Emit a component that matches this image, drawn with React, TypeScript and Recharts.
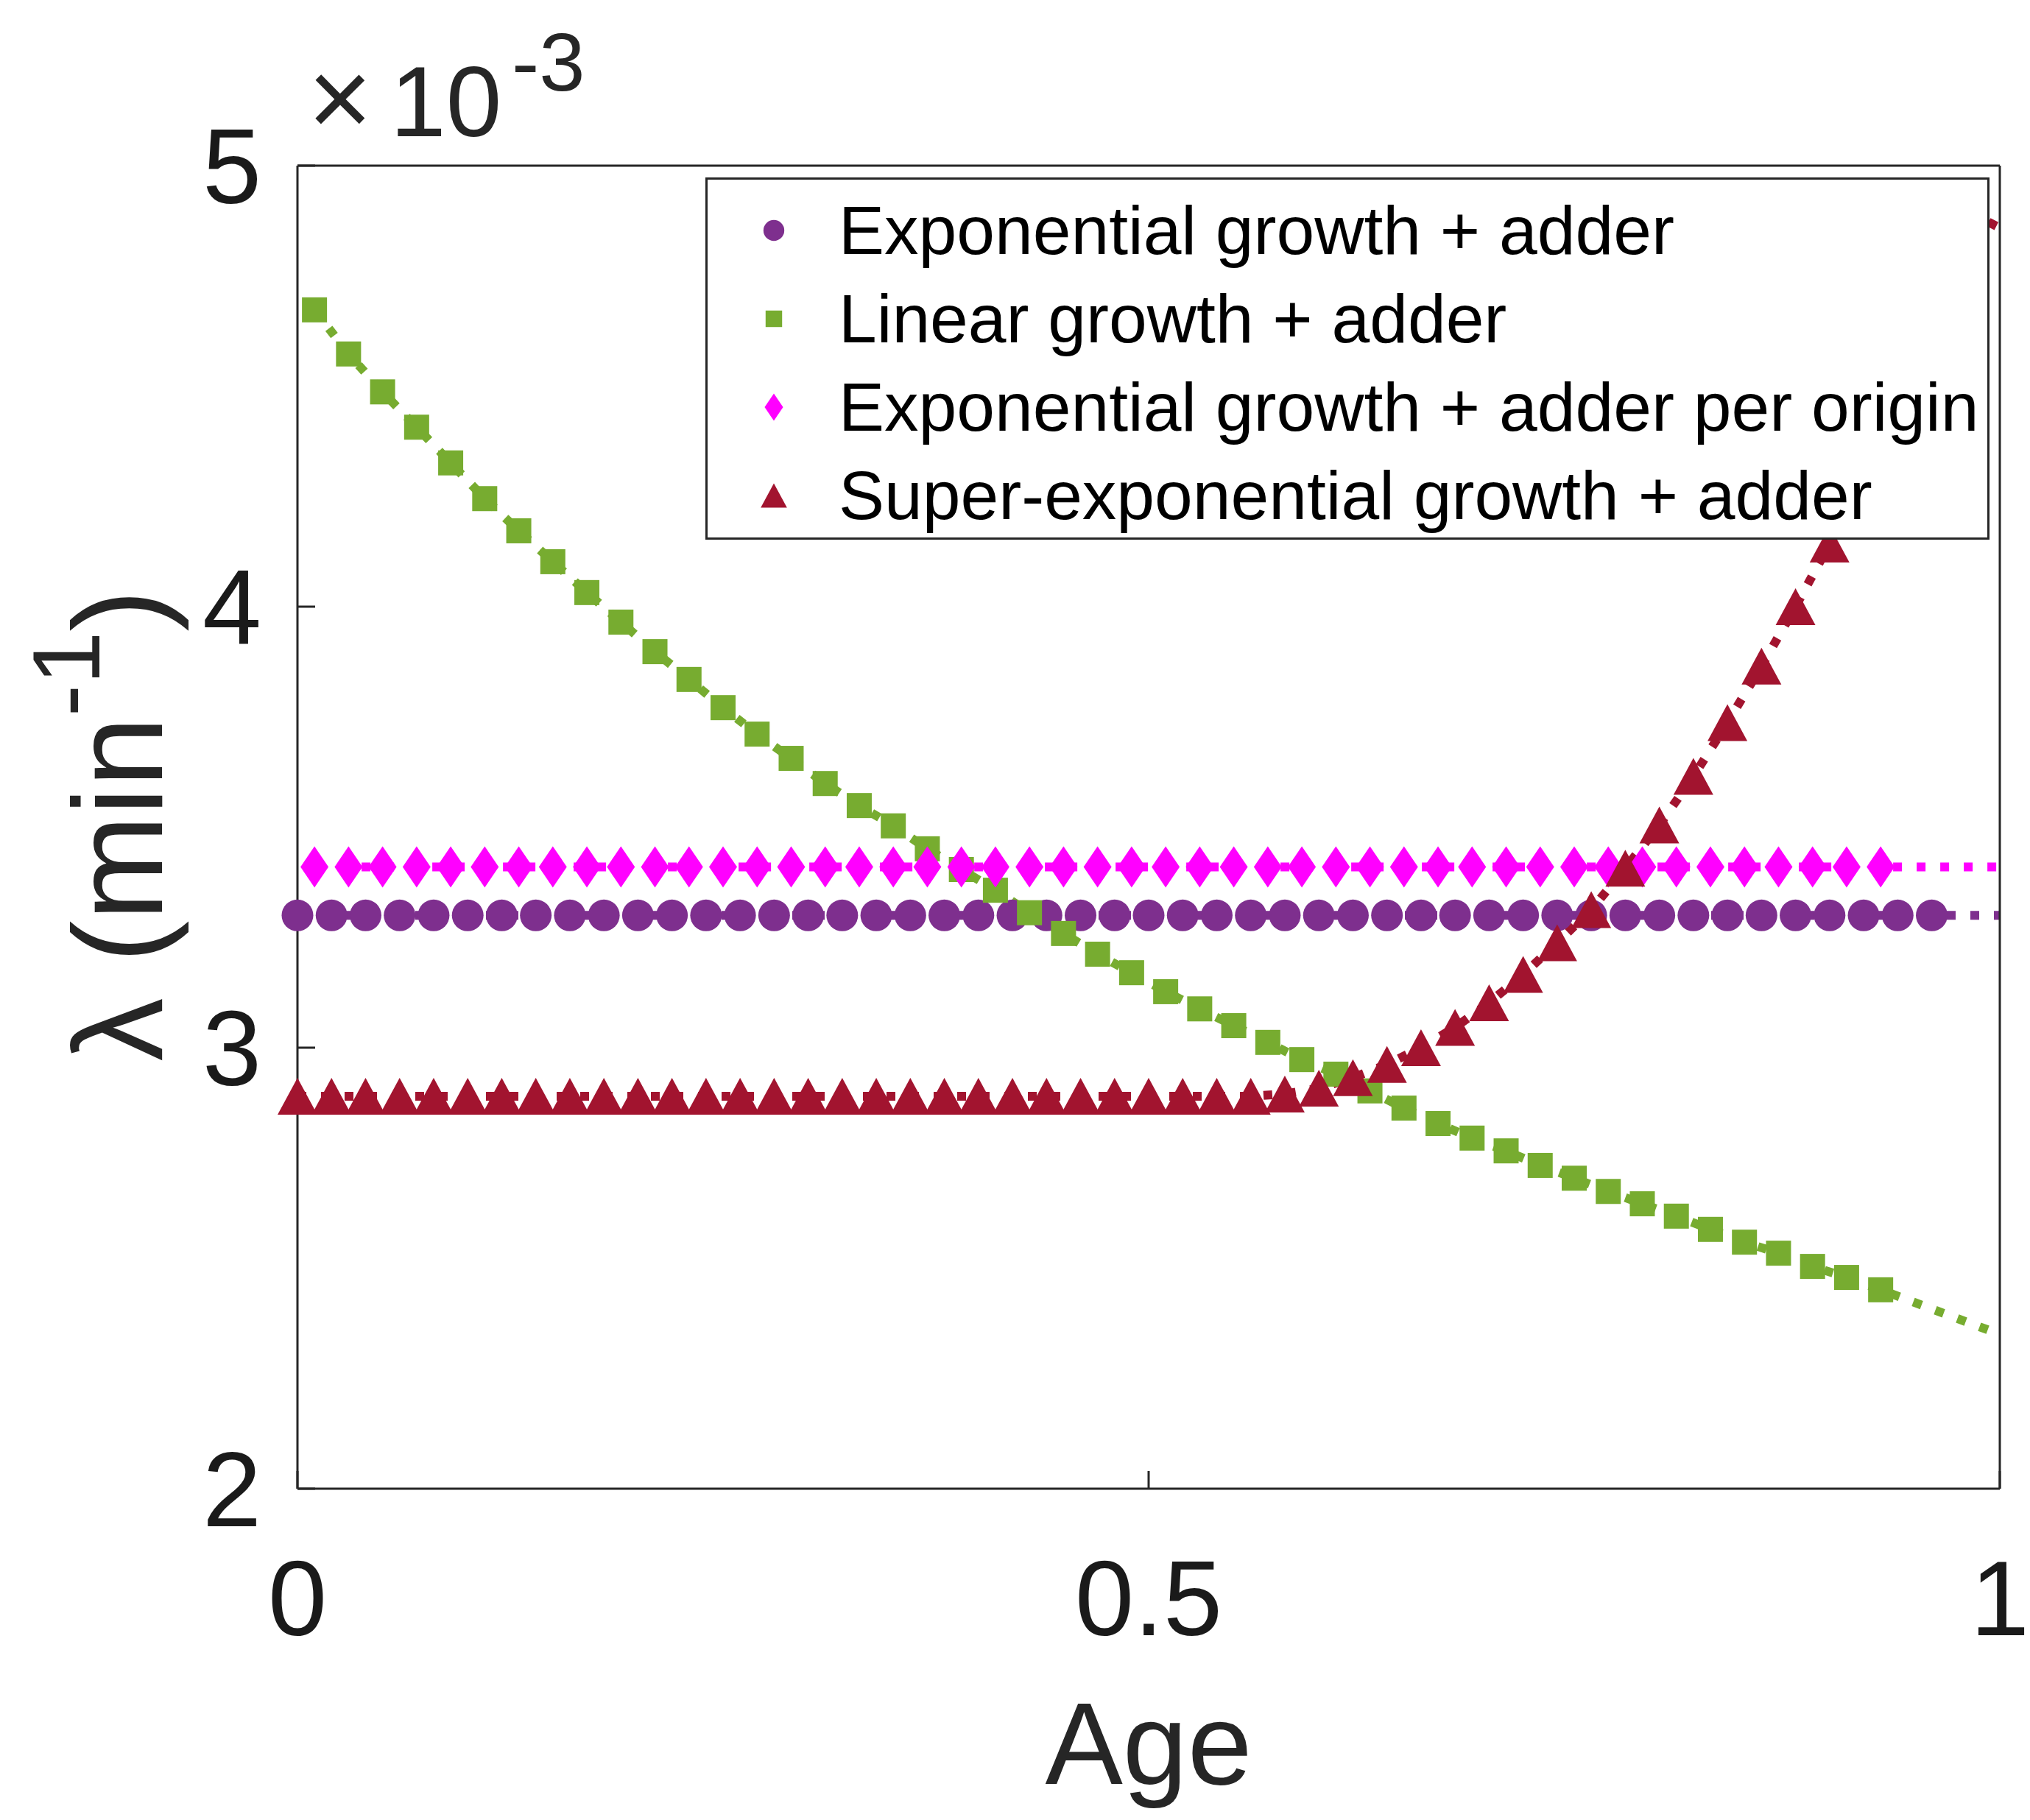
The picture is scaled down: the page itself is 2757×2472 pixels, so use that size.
import { ComposedChart, Line, Scatter, XAxis, YAxis, Legend } from 'recharts';

const W = 2757;
const H = 2472;
const FONT = '"Liberation Sans", Arial, sans-serif';
const INK = '#262626';

// marker positions (Age)
const AGE_EVEN = [
  0, 0.02, 0.04, 0.06, 0.08, 0.1, 0.12, 0.14, 0.16, 0.18,
  0.2, 0.22, 0.24, 0.26, 0.28, 0.3, 0.32, 0.34, 0.36, 0.38,
  0.4, 0.42, 0.44, 0.46, 0.48, 0.5, 0.52, 0.54, 0.56, 0.58,
  0.6, 0.62, 0.64, 0.66, 0.68, 0.7, 0.72, 0.74, 0.76, 0.78,
  0.8, 0.82, 0.84, 0.86, 0.88, 0.9, 0.92, 0.94, 0.96,
];
const AGE_ODD = [
  0.01, 0.03, 0.05, 0.07, 0.09, 0.11, 0.13, 0.15, 0.17, 0.19,
  0.21, 0.23, 0.25, 0.27, 0.29, 0.31, 0.33, 0.35, 0.37, 0.39,
  0.41, 0.43, 0.45, 0.47, 0.49, 0.51, 0.53, 0.55, 0.57, 0.59,
  0.61, 0.63, 0.65, 0.67, 0.69, 0.71, 0.73, 0.75, 0.77, 0.79,
  0.81, 0.83, 0.85, 0.87, 0.89, 0.91, 0.93,
];

// lambda values, x 1e-3 min^-1
const EXP_ADDER = [
  3.3, 3.3, 3.3, 3.3, 3.3, 3.3, 3.3, 3.3, 3.3, 3.3,
  3.3, 3.3, 3.3, 3.3, 3.3, 3.3, 3.3, 3.3, 3.3, 3.3,
  3.3, 3.3, 3.3, 3.3, 3.3, 3.3, 3.3, 3.3, 3.3, 3.3,
  3.3, 3.3, 3.3, 3.3, 3.3, 3.3, 3.3, 3.3, 3.3, 3.3,
  3.3, 3.3, 3.3, 3.3, 3.3, 3.3, 3.3, 3.3, 3.3,
];
const LINEAR_ADDER = [
  4.673, 4.573, 4.487, 4.407, 4.326, 4.245, 4.172, 4.102, 4.032, 3.965,
  3.898, 3.835, 3.771, 3.711, 3.656, 3.599, 3.549, 3.503, 3.451, 3.404,
  3.357, 3.306, 3.259, 3.212, 3.17, 3.127, 3.088, 3.05, 3.012, 2.973,
  2.94, 2.902, 2.863, 2.828, 2.795, 2.766, 2.733, 2.704, 2.674, 2.646,
  2.618, 2.588, 2.559, 2.534, 2.504, 2.479, 2.451,
];
const EXP_ORIGIN = [
  3.41, 3.41, 3.41, 3.41, 3.41, 3.41, 3.41, 3.41, 3.41, 3.41,
  3.41, 3.41, 3.41, 3.41, 3.41, 3.41, 3.41, 3.41, 3.41, 3.41,
  3.41, 3.41, 3.41, 3.41, 3.41, 3.41, 3.41, 3.41, 3.41, 3.41,
  3.41, 3.41, 3.41, 3.41, 3.41, 3.41, 3.41, 3.41, 3.41, 3.41,
  3.41, 3.41, 3.41, 3.41, 3.41, 3.41, 3.41,
];
const SUPER_EXP = [
  2.89, 2.89, 2.89, 2.89, 2.89, 2.89, 2.89, 2.89, 2.89, 2.89,
  2.89, 2.89, 2.89, 2.89, 2.89, 2.89, 2.89, 2.89, 2.89, 2.89,
  2.89, 2.89, 2.89, 2.89, 2.89, 2.89, 2.89, 2.89, 2.89, 2.895,
  2.908, 2.932, 2.962, 3.0, 3.046, 3.102, 3.166, 3.238, 3.313, 3.407,
  3.505, 3.615, 3.737, 3.865, 4.0, 4.142, 4.29, 4.44, 4.595,
];

// the dotted lines run on past the last marker
const EXP_ADDER_TAIL_AGES = [1];
const EXP_ADDER_TAIL = [3.3];
const LINEAR_ADDER_TAIL_AGES = [1];
const LINEAR_ADDER_TAIL = [2.35];
const EXP_ORIGIN_TAIL_AGES = [1];
const EXP_ORIGIN_TAIL = [3.41];
const SUPER_EXP_TAIL_AGES = [0.98, 1];
const SUPER_EXP_TAIL = [4.75, 4.9];

const X_TICKS = [0, 0.5, 1];
const Y_TICKS = [2, 3, 4, 5];

type Kind = 'circle' | 'square' | 'diamond' | 'triangle';

const toPoints = (ages: number[], values: number[]) =>
  ages.map((x, i) => ({ x, y: values[i] }));

const SERIES = [
  {
    name: 'Exponential growth + adder',
    color: '#7E2F8E',
    kind: 'circle' as Kind,
    points: toPoints(AGE_EVEN, EXP_ADDER),
    tail: toPoints(EXP_ADDER_TAIL_AGES, EXP_ADDER_TAIL),
  },
  {
    name: 'Linear growth + adder',
    color: '#77AC30',
    kind: 'square' as Kind,
    points: toPoints(AGE_ODD, LINEAR_ADDER),
    tail: toPoints(LINEAR_ADDER_TAIL_AGES, LINEAR_ADDER_TAIL),
  },
  {
    name: 'Exponential growth + adder per origin',
    color: '#FF00FF',
    kind: 'diamond' as Kind,
    points: toPoints(AGE_ODD, EXP_ORIGIN),
    tail: toPoints(EXP_ORIGIN_TAIL_AGES, EXP_ORIGIN_TAIL),
  },
  {
    name: 'Super-exponential growth + adder',
    color: '#A2142F',
    kind: 'triangle' as Kind,
    points: toPoints(AGE_EVEN, SUPER_EXP),
    tail: toPoints(SUPER_EXP_TAIL_AGES, SUPER_EXP_TAIL),
  },
];

function Marker({ kind, cx, cy, color, s = 1 }: { kind: Kind; cx: number; cy: number; color: string; s?: number }) {
  if (kind === 'circle') return <circle cx={cx} cy={cy} r={21.5 * s} fill={color} />;
  if (kind === 'square') {
    const h = 17 * s;
    return <rect x={cx - h} y={cy - h} width={2 * h} height={2 * h} fill={color} />;
  }
  if (kind === 'diamond') {
    const hw = 19 * s;
    const hh = 28 * s;
    return (
      <polygon
        points={`${cx},${cy - hh} ${cx + hw},${cy} ${cx},${cy + hh} ${cx - hw},${cy}`}
        fill={color}
      />
    );
  }
  const hw = 27 * s;
  const hh = 25 * s;
  return <polygon points={`${cx},${cy - hh} ${cx + hw},${cy + hh} ${cx - hw},${cy + hh}`} fill={color} />;
}

function LegendBox() {
  return (
    <div
      style={{
        width: 1744,
        height: 492,
        boxSizing: 'border-box',
        border: `3px solid ${INK}`,
        background: '#fff',
        position: 'relative',
        fontFamily: FONT,
      }}
    >
      {SERIES.map((s, i) => (
        <div
          key={s.name}
          style={{
            position: 'absolute',
            left: 0,
            top: 9 + i * 120,
            height: 120,
            display: 'flex',
            alignItems: 'center',
          }}
        >
          <svg width={178} height={120} style={{ display: 'block' }}>
            <Marker kind={s.kind} cx={90} cy={60} color={s.color} s={0.66} />
          </svg>
          <span style={{ fontSize: 93, color: '#000', whiteSpace: 'nowrap', lineHeight: '120px' }}>
            {s.name}
          </span>
        </div>
      ))}
    </div>
  );
}

function YLabel() {
  return (
    <text
      x={220}
      y={1121}
      transform="rotate(-90 220 1121)"
      textAnchor="middle"
      fontSize={172}
      fill={INK}
      fontFamily={FONT}
    >
      λ (min
      <tspan fontSize={130} dy={-85}>-1</tspan>
      <tspan dy={85}>)</tspan>
    </text>
  );
}

function ExpLabel() {
  return (
    <text y={185} fill={INK} fontFamily={FONT} fontSize={136}>
      <tspan x={418} fontSize={150}>×</tspan>
      <tspan x={530}>10</tspan>
      <tspan x={695} y={123} fontSize={112}>-3</tspan>
    </text>
  );
}

function AgeLabel() {
  return (
    <text x={1560} y={2423} textAnchor="middle" fontSize={158} fill={INK} fontFamily={FONT}>
      Age
    </text>
  );
}

export default function App() {
  const axisLine = { stroke: INK, strokeWidth: 3 };
  const tickLine = { stroke: INK, strokeWidth: 3 };
  const tickFont = { fontSize: 144, fill: '#1a1a1a', fontFamily: FONT };
  const blank = () => '';

  return (
    <div style={{ position: 'absolute', left: 0, top: 0, width: W, height: H, background: '#fff' }}>
      <ComposedChart width={W} height={H} margin={{ top: 224, right: 40, bottom: 300, left: 304 }}>
        <XAxis
          dataKey="x"
          type="number"
          domain={[0, 1]}
          ticks={X_TICKS}
          height={150}
          stroke={INK}
          axisLine={axisLine}
          tickLine={tickLine}
          tickSize={-24}
          tickMargin={121}
          tick={tickFont}
          label={<AgeLabel />}
        />
        <XAxis
          xAxisId="top"
          orientation="top"
          type="number"
          domain={[0, 1]}
          ticks={X_TICKS}
          height={1}
          stroke={INK}
          axisLine={axisLine}
          tickLine={tickLine}
          tickSize={-24}
          tickFormatter={blank}
          label={<ExpLabel />}
        />
        <YAxis
          dataKey="y"
          type="number"
          domain={[2, 5]}
          ticks={Y_TICKS}
          width={100}
          stroke={INK}
          axisLine={axisLine}
          tickLine={tickLine}
          tickSize={-24}
          tickMargin={73}
          tick={tickFont}
          label={<YLabel />}
        />
        <YAxis
          yAxisId="right"
          orientation="right"
          type="number"
          domain={[2, 5]}
          ticks={Y_TICKS}
          width={1}
          stroke={INK}
          axisLine={axisLine}
          tickLine={tickLine}
          tickSize={-24}
          tickFormatter={blank}
        />
        {SERIES.map((s) => (
          <Line
            key={`line-${s.name}`}
            data={[...s.points, ...s.tail]}
            dataKey="y"
            type="linear"
            stroke={s.color}
            strokeWidth={12}
            strokeDasharray="12 20"
            dot={false}
            activeDot={false}
            legendType="none"
            isAnimationActive={false}
          />
        ))}
        {SERIES.map((s) => (
          <Scatter
            key={`pts-${s.name}`}
            name={s.name}
            data={s.points}
            dataKey="y"
            fill={s.color}
            shape={(p: any) => <Marker kind={s.kind} cx={p.cx} cy={p.cy} color={s.color} />}
            isAnimationActive={false}
          />
        ))}
        <Legend
          layout="vertical"
          align="center"
          verticalAlign="middle"
          content={() => <LegendBox />}
          wrapperStyle={{ left: 958, top: 241, width: 1744, height: 492 }}
        />
      </ComposedChart>
    </div>
  );
}
